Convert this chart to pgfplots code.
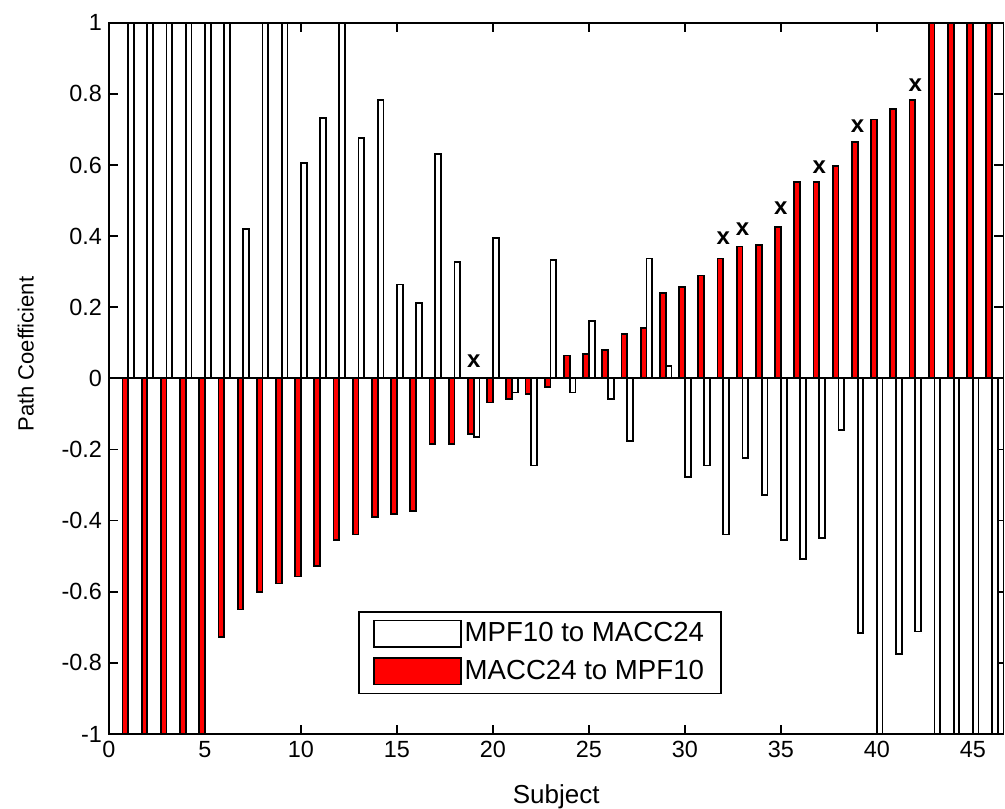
\documentclass[border=0pt]{standalone}
\usepackage{pgfplots}
\pgfplotsset{compat=1.18}
\usepackage{pgfplotstable}
\usepackage{fontspec}
\setmainfont{Liberation Sans}
\usetikzlibrary{calc}

% MPF10 to MACC24 (white bars)
\pgfplotstableread{
subj val
1 1
2 1
3 1
4 1
5 1
6 1
7 0.42
8 1
9 1
10 0.605
11 0.733
12 1
13 0.675
14 0.783
15 0.264
16 0.211
17 0.631
18 0.328
19 -0.166
20 0.395
21 -0.040
22 -0.245
23 0.333
24 -0.040
25 0.162
26 -0.059
27 -0.176
28 0.337
29 0.035
30 -0.278
31 -0.245
32 -0.439
33 -0.225
34 -0.327
35 -0.454
36 -0.508
37 -0.449
38 -0.146
39 -0.717
40 -1
41 -0.776
42 -0.712
43 -1
44 -1
45 -1
46 -1
}\mpftomacc

% MACC24 to MPF10 (red bars)
\pgfplotstableread{
subj val
1 -1
2 -1
3 -1
4 -1
5 -1
6 -0.727
7 -0.650
8 -0.600
9 -0.577
10 -0.557
11 -0.528
12 -0.454
13 -0.439
14 -0.390
15 -0.381
16 -0.372
17 -0.185
18 -0.185
19 -0.156
20 -0.068
21 -0.058
22 -0.044
23 -0.024
24 0.064
25 0.069
26 0.079
27 0.124
28 0.142
29 0.240
30 0.256
31 0.289
32 0.337
33 0.371
34 0.376
35 0.425
36 0.552
37 0.552
38 0.596
39 0.664
40 0.728
41 0.757
42 0.782
43 1
44 1
45 1
46 1
}\macctompf

% subjects marked with an x
\pgfplotstableread{
subj y
19 0.047
32 0.393
33 0.419
35 0.478
37 0.595
39 0.708
42 0.824
}\marked

\begin{document}
\begin{tikzpicture}
\begin{axis}[
    name=ax,
    scale only axis,
    width=447.25pt, height=355.65pt,
    xmin=0, xmax=46.6,
    ymin=-1, ymax=1,
    xtick={0,5,...,45},
    xticklabels={0,5,10,15,20,25,30,35,40,45},
    ytick={-1,-0.8,-0.6,-0.4,-0.2,0,0.2,0.4,0.6,0.8,1},
    yticklabels={-1,-0.8,-0.6,-0.4,-0.2,0,0.2,0.4,0.6,0.8,1},
    tick align=inside,
    major tick length=4.7pt,
    tick style={black, line width=0.8pt},
    axis line style={line width=0.9pt},
    ticklabel style={font=\fontsize{11.7}{14}\selectfont},
    xlabel={Subject},
    ylabel={Path Coefficient},
    xlabel style={font=\fontsize{13}{15}\selectfont, yshift=-6.5pt},
    ylabel style={font=\fontsize{11}{13}\selectfont, at={(ticklabel cs:0.534,7pt)}},
    extra y ticks={0},
    extra y tick labels={},
    extra y tick style={grid=major, major grid style={black, line width=0.9pt}},
    legend style={at={(0.2787,0.056)}, anchor=south west,
        draw=black, line width=0.8pt,
        font=\fontsize{13.8}{16}\selectfont,
        inner xsep=7pt, inner ysep=3pt,
        row sep=2.8pt,
        nodes={inner sep=1.5pt, text height=10.5pt, text depth=2.5pt}},
    legend cell align=left,
    legend image code/.code={\draw[#1, line width=0.8pt] (0pt,-6.65pt) rectangle (43.5pt,6.65pt);},
]
\addplot[ybar, bar width=0.3, bar shift=0.15, fill=white, draw=black, line width=0.9pt]
    table[x=subj, y=val] {\mpftomacc};
\addlegendentry{MPF10 to MACC24}
\addplot[ybar, bar width=0.3, bar shift=-0.15, fill=red, draw=black, line width=0.9pt]
    table[x=subj, y=val] {\macctompf};
\addlegendentry{MACC24 to MPF10}
\addplot[only marks, mark=text, text mark={x}, text mark as node=true,
    text mark style={font=\fontsize{12}{14}\selectfont\bfseries, inner sep=0pt}, forget plot]
    table[x=subj, y=y] {\marked};
\end{axis}
\pgfresetboundingbox
\path[use as bounding box] ($(ax.south west)+(-54.5pt,-37pt)$) rectangle ($(ax.north east)+(0.75pt,11.35pt)$);
\end{tikzpicture}
\end{document}
